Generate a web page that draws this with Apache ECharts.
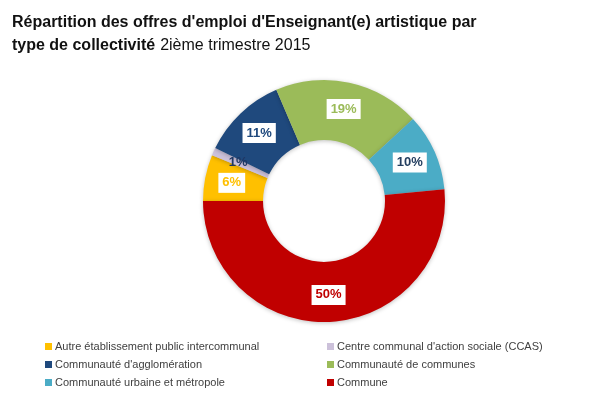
<!DOCTYPE html>
<html>
<head>
<meta charset="utf-8">
<script src="https://cdn.jsdelivr.net/npm/echarts@6/dist/echarts.min.js"></script>
<style>
  html, body { margin: 0; padding: 0; background: #fff; }
  #main { width: 608px; height: 396px; }
</style>
</head>
<body>
<div id="main"></div>
<script>
// types de collectivité, dans l'ordre du sens horaire
var categories = [
  'Autre établissement public intercommunal',
  'Centre communal d\'action sociale (CCAS)',
  'Communauté d\'agglomération',
  'Communauté de communes',
  'Communauté urbaine et métropole',
  'Commune'
];
// parts en % (étiquettes du graphique)
var shares = [6, 1, 11, 19, 10, 50];

var colors = ['#FFC000', '#CCC1DA', '#1F497D', '#9BBB59', '#4BACC6', '#C00000'];
var labelColors = ['#FFC000', '#1F3864', '#1F497D', '#9BBB59', '#243F60', '#C00000'];

var myChart = echarts.init(document.getElementById('main'));

var pieData = [];
for (var i = 0; i < categories.length; i++) {
  pieData.push({
    name: categories[i],
    value: shares[i],
    itemStyle: { color: colors[i] },
    label: {
      color: labelColors[i],
      backgroundColor: shares[i] < 2 ? 'transparent' : '#fff'
    }
  });
}

var font = 'Liberation Sans, Arial, sans-serif';

myChart.setOption({
  animation: false,
  title: {
    left: 7,
    top: 6,
    text: '{b|Répartition des offres d\'emploi d\'Enseignant(e) artistique par}\n{b|type de collectivité} {n|2ième trimestre 2015}',
    textStyle: {
      fontWeight: 'normal',
      rich: {
        b: { fontFamily: font, fontSize: 16, fontWeight: 'bold', color: '#111', lineHeight: 23 },
        n: { fontFamily: font, fontSize: 16, fontWeight: 'normal', color: '#111', lineHeight: 23 }
      }
    }
  },
  legend: [{
    orient: 'vertical',
    left: 40,
    top: 336,
    itemWidth: 7,
    itemHeight: 7,
    itemGap: 7,
    icon: 'rect',
    textStyle: { fontFamily: font, fontSize: 11, color: '#404040', padding: [0, 0, 0, -2] },
    data: [categories[0], categories[2], categories[4]]
  }, {
    orient: 'vertical',
    left: 322,
    top: 336,
    itemWidth: 7,
    itemHeight: 7,
    itemGap: 7,
    icon: 'rect',
    textStyle: { fontFamily: font, fontSize: 11, color: '#404040', padding: [0, 0, 0, -2] },
    data: [categories[1], categories[3], categories[5]]
  }],
  series: [{
    type: 'pie',
    center: [324, 201],
    radius: [61, 121],
    startAngle: 180,
    clockwise: true,
    avoidLabelOverlap: false,
    itemStyle: {
      shadowBlur: 4,
      shadowColor: 'rgba(0,0,0,0.25)',
      shadowOffsetY: 1
    },
    label: {
      show: true,
      position: 'inside',
      formatter: '{c}%',
      fontFamily: font,
      fontSize: 13,
      fontWeight: 'bold',
      padding: [4, 4, 3, 4]
    },
    labelLine: { show: false },
    emphasis: { disabled: true },
    data: pieData
  }]
});
</script>
</body>
</html>
